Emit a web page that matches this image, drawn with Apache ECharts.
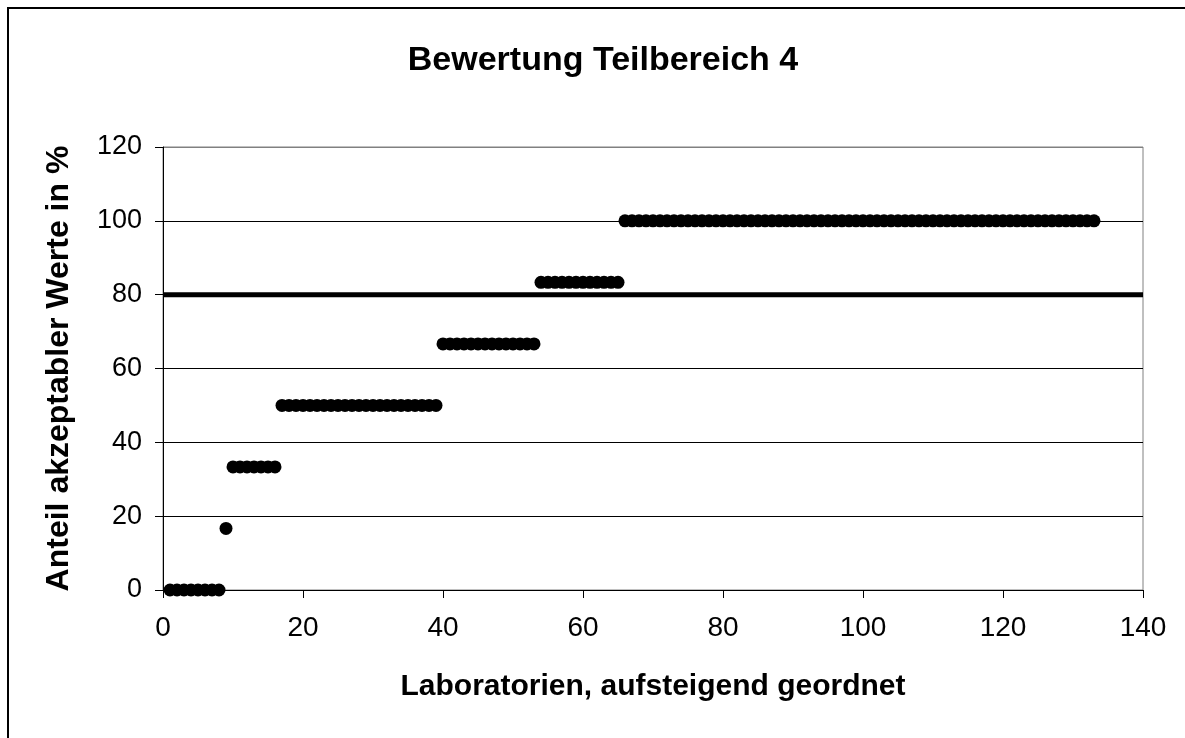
<!DOCTYPE html>
<html>
<head>
<meta charset="utf-8">
<title>Bewertung Teilbereich 4</title>
<script src="https://cdn.jsdelivr.net/npm/echarts@6/dist/echarts.min.js"></script>
<style>
  html, body { margin: 0; padding: 0; background: #fff; overflow: hidden; }
  #frame {
    position: absolute; left: 7px; top: 7px;
    width: 1400px; height: 900px;
    border: 2px solid #000; box-sizing: border-box;
  }
  #chart { position: absolute; left: 0; top: 0; width: 1185px; height: 738px; }
</style>
</head>
<body>
<div id="frame"></div>
<div id="chart"></div>
<script>
// share of acceptable values per lab (%), labs sorted ascending
const labValues = [
  0, 0, 0, 0, 0, 0, 0, 0,
  16.67,
  33.33, 33.33, 33.33, 33.33, 33.33, 33.33, 33.33,
  50, 50, 50, 50, 50, 50, 50, 50, 50, 50, 50, 50,
  50, 50, 50, 50, 50, 50, 50, 50, 50, 50, 50,
  66.67, 66.67, 66.67, 66.67, 66.67, 66.67, 66.67,
  66.67, 66.67, 66.67, 66.67, 66.67, 66.67, 66.67,
  83.33, 83.33, 83.33, 83.33, 83.33, 83.33,
  83.33, 83.33, 83.33, 83.33, 83.33, 83.33,
  100, 100, 100, 100, 100, 100, 100, 100, 100, 100,
  100, 100, 100, 100, 100, 100, 100, 100, 100, 100,
  100, 100, 100, 100, 100, 100, 100, 100, 100, 100,
  100, 100, 100, 100, 100, 100, 100, 100, 100, 100,
  100, 100, 100, 100, 100, 100, 100, 100, 100, 100,
  100, 100, 100, 100, 100, 100, 100, 100, 100, 100,
  100, 100, 100, 100, 100, 100, 100, 100
];
// 80 % limit line
const limitX = [0, 140];
const limitY = [80, 80];

const xTicks = { min: 0, max: 140, interval: 20 };
const yTicks = { min: 0, max: 120, interval: 20 };

const font = 'Arial, "Liberation Sans", sans-serif';

const chart = echarts.init(document.getElementById('chart'));
chart.setOption({
  animation: false,
  backgroundColor: 'transparent',
  title: {
    text: 'Bewertung Teilbereich 4',
    left: 598,
    top: 39,
    textAlign: 'center',
    textStyle: { fontFamily: font, fontSize: 34, fontWeight: 'bold', color: '#000' }
  },
  grid: {
    left: 163, right: 42, top: 147, bottom: 148,
    show: true, borderColor: '#808080', borderWidth: 1, backgroundColor: 'transparent'
  },
  xAxis: {
    type: 'value',
    min: xTicks.min, max: xTicks.max, interval: xTicks.interval,
    name: 'Laboratorien, aufsteigend geordnet',
    nameLocation: 'middle',
    nameGap: 82,
    nameTextStyle: { fontFamily: font, fontSize: 30, fontWeight: 'bold', color: '#000' },
    axisLine: { show: true, lineStyle: { color: '#000', width: 1 } },
    axisTick: { show: true, inside: false, length: 8, lineStyle: { color: '#000' } },
    axisLabel: { fontFamily: font, fontSize: 28, color: '#000', margin: 24 },
    splitLine: { show: false }
  },
  yAxis: {
    type: 'value',
    min: yTicks.min, max: yTicks.max, interval: yTicks.interval,
    name: 'Anteil akzeptabler Werte in %',
    nameLocation: 'middle',
    nameGap: 88,
    nameTextStyle: { fontFamily: font, fontSize: 32, fontWeight: 'bold', color: '#000' },
    axisLine: { show: true, lineStyle: { color: '#000', width: 1 } },
    axisTick: { show: true, inside: false, length: 8, lineStyle: { color: '#000' } },
    axisLabel: { fontFamily: font, fontSize: 27, color: '#000', margin: 21 },
    splitLine: {
      show: true,
      lineStyle: { color: ['#000', '#000', '#000', '#000', '#000', '#000', '#808080'], width: 1 }
    }
  },
  series: [
    {
      type: 'line',
      data: limitX.map((x, i) => [x, limitY[i]]),
      showSymbol: false,
      symbol: 'none',
      lineStyle: { color: '#000', width: 5 },
      z: 2
    },
    {
      type: 'scatter',
      data: labValues.map((v, i) => [i + 1, v]),
      symbol: 'circle',
      symbolSize: 13,
      itemStyle: { color: '#000', opacity: 1 },
      z: 3
    }
  ]
});
</script>
</body>
</html>
